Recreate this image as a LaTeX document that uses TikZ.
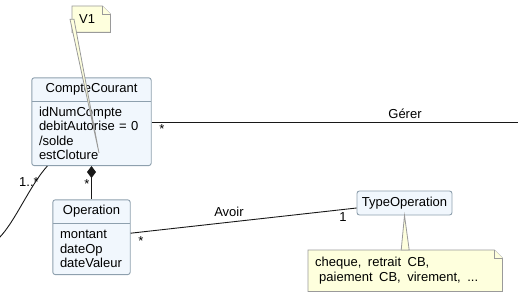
\documentclass[tikz,border=0pt]{standalone}
\usepackage{fontspec}
\setmainfont{Liberation Sans}[WordSpace=1.8]
\usetikzlibrary{positioning,arrows.meta,fit,backgrounds}
\definecolor{classfill}{HTML}{F1F7FD}
\definecolor{classline}{HTML}{8EA0AE}
\definecolor{notefill}{HTML}{FEFFDD}
\definecolor{noteline}{HTML}{9A9A9A}
\definecolor{linkline}{HTML}{181818}
\tikzset{%
    every node/.style={font=\fontsize{13}{14.5}\selectfont},
    classbox/.style={draw=classline, fill=classfill, line width=0.9pt, rounded corners=2.5pt, inner sep=0pt},
    chead/.style={minimum height=23pt, inner sep=0pt},
    cattr/.style={inner xsep=7pt, inner ysep=0pt, align=left},
    notedraw/.style={draw=noteline, fill=notefill, line width=0.8pt},
    assoc/.style={draw=linkline, line width=0.9pt},
    mult/.style={inner sep=0pt},
    pics/note/.style n args={4}{code={%
            % frame
            \node[minimum width=#2, minimum height=#3, inner sep=0pt, anchor=north west] (#1) at (0,0) {};
            % sheet with dog-ear
            \filldraw[notedraw] (#1.north west) -- ([xshift=-8pt]#1.north east) -- ([yshift=-8pt]#1.north east) -- (#1.south east) -- (#1.south west) -- cycle;
            \draw[notedraw] ([xshift=-8pt]#1.north east) |- ([yshift=-8pt]#1.north east);
            % text
            \node[anchor=west, align=left, inner sep=0pt] (#1-text) at ([xshift=7pt]#1.west) {#4};
        }},
}

\begin{document}
\begin{tikzpicture}[x=1pt,y=-1pt]
    \useasboundingbox (0,0) rectangle (518,305);

    % CompteCourant
    \node[chead, minimum width=119pt] (cc) at (91.5,89.5) {CompteCourant};
    \node[cattr, text width=105pt, minimum height=64pt, below=0pt of cc] (ccattr) {idNumCompte\\debitAutorise = 0\\/solde\\estCloture};
    % Operation
    \node[chead, minimum width=77pt] (op) at (91.5,211.5) {Operation};
    \node[cattr, text width=63pt, minimum height=51pt, below=0pt of op] (opattr) {montant\\dateOp\\dateValeur};
    % TypeOperation
    \node[classbox, minimum width=95pt, minimum height=24pt] (typeop) at (404.5,203) {TypeOperation};

    \begin{scope}[on background layer]
        \node[classbox, fit=(cc)(ccattr)] (ccbox) {};
        \node[classbox, fit=(op)(opattr)] (opbox) {};
    \end{scope}
    \draw[classline, line width=0.9pt] (cc.south west) -- (cc.south east);
    \draw[classline, line width=0.9pt] (op.south west) -- (op.south east);

    % notes
    \pic at (72,6) {note={noteV}{38pt}{26pt}{V1}};
    \pic at (308,250) {note={noteType}{194pt}{41pt}{cheque, retrait CB,\\\hspace*{4pt}paiement CB, virement, ...}};

    % associations
    \coordinate (gererEnd) at (520,122);
    \coordinate (histEnd) at (-1,238);
    \draw[assoc] (ccbox.east |- gererEnd) -- (gererEnd);
    \draw[assoc] ([xshift=16pt]ccbox.south west) .. controls (30,185) and (15,222) .. (histEnd);
    \draw[assoc, {Diamond[length=12pt,width=9pt]}-] (ccbox.south) -- (opbox.north);
    \draw[assoc] ([yshift=4pt]opbox.east) -- ([yshift=-5pt]typeop.west);

    % labels
    \node (gererLbl) at (405,114) {Gérer};
    \node (avoirLbl) at (229,212) {Avoir};
    \node[mult] (gererMult) at (162,129) {*};
    \node[mult] (histMult) at (29,182) {1..*};
    \node[mult] (compMult) at (87,184) {*};
    \node[mult] (avoirMultOp) at (141,241) {*};
    \node[mult] (avoirMultType) at (343,217) {1};

    % note links
    \coordinate (vTarget) at (99,153);
    \filldraw[notedraw] ([xshift=-2pt]noteV.west) -- (vTarget) -- ([xshift=2pt]noteV.west) -- cycle;
    \filldraw[notedraw] ([xshift=-4pt]noteType.north) -- (typeop.south) -- ([xshift=4pt]noteType.north) -- cycle;

\end{tikzpicture}
\end{document}
